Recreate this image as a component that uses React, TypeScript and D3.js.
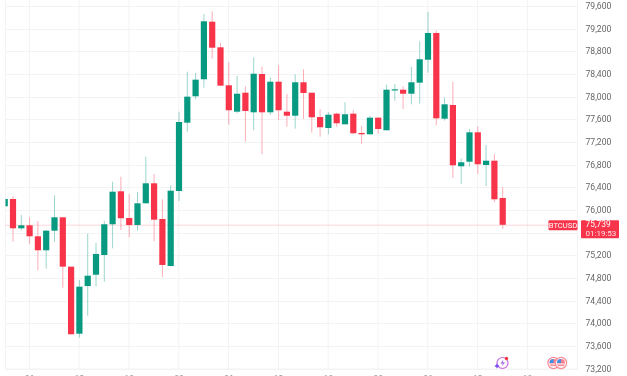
import React from "react";
import * as d3 from "d3";

const opens = [76065,76194,75677,75730,75536,75289,75635,75871,75000,73817,74659,74858,75206,75748,76330,75859,75735,76118,76471,75841,75012,76335,77541,78007,78307,79323,78871,78201,77735,78070,77724,78400,77724,78264,77735,77664,78254,78070,77641,77447,77700,77512,77700,77359,77336,77629,77407,78112,78123,78052,78247,78652,79124,77611,77853,76771,76852,77371,76794,76870,76212];
const closes = [76194,75677,75730,75536,75289,75635,75871,75000,73807,74647,74841,75224,75748,76323,75854,75735,76118,76471,75829,75030,76341,77553,78000,78300,79330,78864,78194,77760,78052,77747,78405,77724,78264,77760,77664,78254,78065,77636,77460,77682,77530,77689,77354,77336,77629,77430,78123,78130,78052,78254,78660,79124,77618,77865,76789,76842,77371,76807,76870,76189,75739];
const highs = [76194,76242,75912,75871,75806,75647,76260,75871,75000,74765,75582,75418,75806,76500,76588,76282,76318,76941,76635,76189,76436,77735,78441,78418,79459,79507,78942,78607,78370,78183,78695,78529,78342,78554,78047,78395,78483,78070,77782,77730,77717,77901,77760,77482,77659,77636,78211,78224,78183,78524,78977,79494,79171,77982,78264,76912,77430,77477,77147,76983,76406];
const lows = [76065,75441,75642,75395,74936,74964,75441,74629,73807,73747,74135,74647,74735,75324,75647,75518,75635,76118,75448,74818,75000,76159,77382,77954,78158,78670,78194,77505,77707,77205,77407,76983,77677,77588,77470,77435,77606,77364,77294,77336,77470,77512,77347,77170,77329,77347,77407,77929,77782,77865,77876,78423,77495,77576,76565,76459,76764,76635,76424,76136,75670];

const priceTicks = [79600,79200,78800,78400,78000,77600,77200,76800,76400,76000,75600,75200,74800,74400,74000,73600,73200];
const timeTicks = ["06","12","18","00","06","12","18","00","06","12","18"];
const timeTickIndex = [3,9,15,21,27,33,39,45,51,57,63];
const lastPrice = 75739;
const countdown = "01:19:53";
const symbol = "BTCUSD";

const UP = "#089981";
const DOWN = "#F7344A";
const GRID = "#f3f3f4";

const W = 627, H = 376;
const PLOT_L = 5.5, PLOT_R = 577.5, PLOT_B = 369;

const y = d3.scaleLinear().domain([79600, 73600]).range([6, 346]);
const x = d3.scaleLinear().domain([0, 60]).range([4.7, 502.7]);
const fmt = d3.format(",");

const barW = 6.2;

export default function App() {
  const yLast = y(lastPrice);
  return (
    <svg width={W} height={H} viewBox={`0 0 ${W} ${H}`}
      style={{ position: "absolute", left: 0, top: 0, background: "#fff", filter: "blur(0.5px)" }}>
      <defs>
        <clipPath id="plot"><rect x={PLOT_L} y={0} width={PLOT_R - PLOT_L} height={PLOT_B} /></clipPath>
      </defs>
      <g stroke={GRID} strokeWidth={1}>
        {priceTicks.map(t => <line key={t} x1={PLOT_L} x2={PLOT_R} y1={Math.round(y(t)) + 0.5} y2={Math.round(y(t)) + 0.5} />)}
        {timeTickIndex.map(i => <line key={i} x1={x(i) - 0.2} x2={x(i) - 0.2} y1={0} y2={PLOT_B} />)}
        <line x1={PLOT_L} x2={PLOT_L} y1={0} y2={PLOT_B} />
        <line x1={PLOT_R} x2={PLOT_R} y1={0} y2={PLOT_B} />
        <line x1={PLOT_L} x2={PLOT_R} y1={PLOT_B} y2={PLOT_B} />
      </g>
      <line x1={PLOT_L} x2={548} y1={yLast + 0.4} y2={yLast + 0.4} stroke={DOWN} strokeOpacity={0.4} strokeDasharray="1 1" />
      <g clipPath="url(#plot)">
        {opens.map((o, i) => {
          const c = closes[i];
          const col = c >= o ? UP : DOWN;
          const top = y(Math.max(o, c));
          const h = Math.max(1.2, Math.abs(y(o) - y(c)));
          return (
            <g key={i}>
              <line x1={x(i)} x2={x(i)} y1={y(highs[i])} y2={y(lows[i])} stroke={col} strokeOpacity={0.4} strokeWidth={1} />
              <rect x={x(i) - barW / 2} y={top} width={barW} height={h} fill={col} />
            </g>
          );
        })}
      </g>
      <g fontFamily="Roboto, sans-serif" fontSize={8.6} fill="#666" textAnchor="start">
        {priceTicks.map(t => <text key={t} x={585.5} y={y(t) + 3}>{fmt(t)}</text>)}
      </g>
      <g fontFamily="Roboto, sans-serif" fontSize={8.6} fill="#999" textAnchor="middle">
        {timeTickIndex.map((i, k) => <text key={i} x={x(i)} y={381.5}>{timeTicks[k]}</text>)}
      </g>
      <rect x={548.5} y={yLast - 4.5} width={29} height={10} rx={1} fill={DOWN} />
      <text x={563} y={yLast + 3.3} fontFamily="Roboto, sans-serif" fontSize={7.6} fill="#fff" textAnchor="middle">{symbol}</text>
      <rect x={581} y={yLast - 4.5} width={38} height={18} rx={1} fill={DOWN} />
      <text x={585.5} y={yLast + 2.6} fontFamily="Roboto, sans-serif" fontSize={8.4} fill="#fff">{fmt(lastPrice)}</text>
      <text x={585.5} y={yLast + 11} fontFamily="Roboto, sans-serif" fontSize={8} fill="#fff" fillOpacity={0.85}>{countdown}</text>
      {/* event icons */}
      <g>
        <circle cx={502.5} cy={363} r={5.5} fill="#fff" stroke="#C86BE0" strokeWidth={1.2} />
        <path d="M503.5 359.5 L500.5 363.5 L503 363.5 L501.5 366.5 L505 362.5 L502.5 362.5 Z" fill="#9B4FE0" />
        <path d="M496 365 l1 -1.6 l1 1.6 l1.6 1 l-1.6 1 l-1 1.6 l-1 -1.6 l-1.6 -1 Z" fill="#7C4DF0" />
        <circle cx={506.5} cy={358.5} r={1.7} fill="#F23645" />
        {[553.5, 561].map(cx => (
          <g key={cx}>
            <circle cx={cx} cy={363} r={5.6} fill="#fff" stroke="#F78A96" strokeWidth={1.2} />
            <path d={`M${cx - 4} 363 a4 4 0 0 1 8 0 Z`} fill="#F7808C" />
            <path d={`M${cx - 4} 363 a4 4 0 0 1 4 -4 v4 Z`} fill="#3F8FE8" />
            <path d={`M${cx - 4} 364 h8 M${cx - 3.3} 365.6 h6.6`} stroke="#F7808C" strokeWidth={1} />
          </g>
        ))}
      </g>
    </svg>
  );
}
